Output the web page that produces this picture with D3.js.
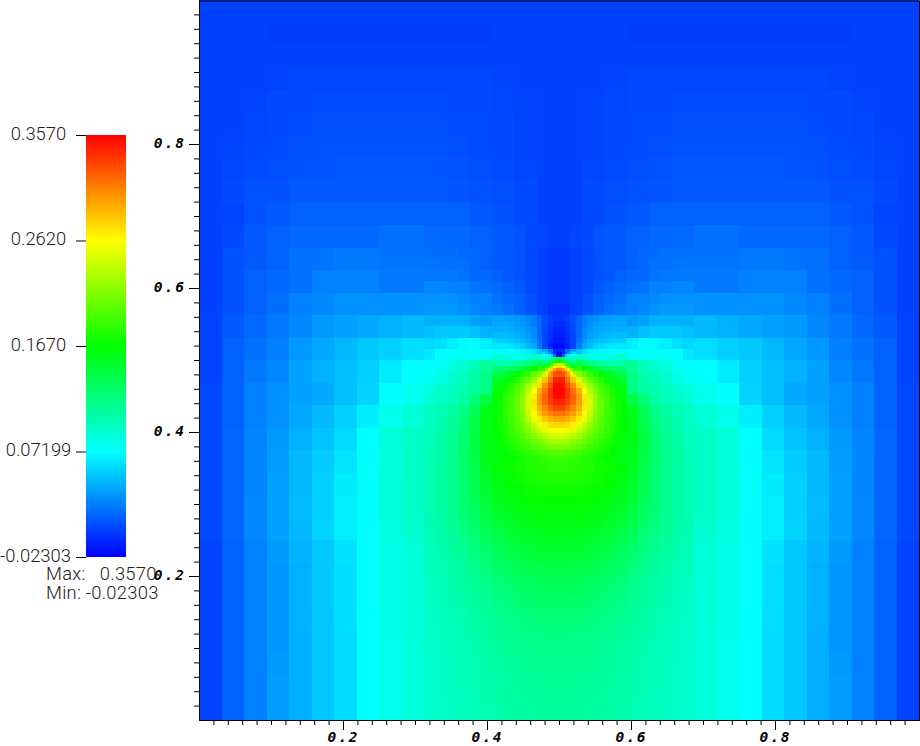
<!doctype html>
<html>
<head>
<meta charset="UTF-8">
<title>field</title>
<script src="https://d3js.org/d3.v7.min.js"></script>
<style>
  html,body{margin:0;padding:0;background:#fff;}
  svg{display:block;}
  .bar text,.info{font-family:Roboto,"Liberation Sans",sans-serif;font-weight:300;font-size:18.4px;fill:#222;}
  .info{letter-spacing:.25px;}
  .num text{font-family:"DejaVu Sans Mono",monospace;font-weight:bold;font-style:italic;font-size:14.5px;letter-spacing:2px;fill:#000;}
</style>
</head>
<body>
<svg id="svg1" width="920" height="746"></svg>
<script>
var colorStops = [-0.02303, 0.07199, 0.1670, 0.2620, 0.3570];
var stopLabels = ["-0.02303", "0.07199", "0.1670", "0.2620", "0.3570"];
var stopColors = ["#0000ff", "#00ffff", "#00ff00", "#ffff00", "#ff0000"];
var xLabels = [0.2, 0.4, 0.6, 0.8];
var yLabels = [0.2, 0.4, 0.6, 0.8];
var infoLines = ["Max:   0.3570", "Min: -0.02303"];

// left half of the mesh, the right half is the mirror of it
// coarse cells, 1/32 wide, rows from the top. rows below 10 stop where the mid cells start
var coarse = [
[.001,.001,.001,.001,.001,.001,.001,.001,.001,.001,.001,.001,.001,.001,.001,.001],
[.001,.001,.001,.000,.000,.000,.000,.000,.000,.000,.000,.000,.000,.001,.001,.001],
[.001,.001,.001,.001,.001,.001,.001,.001,.001,.001,.001,.001,.001,.001,.001,.001],
[.001,.001,.001,.002,.003,.003,.003,.003,.003,.003,.003,.003,.003,.002,.001,.001],
[.001,.001,.002,.004,.004,.005,.005,.005,.005,.005,.005,.004,.004,.003,.002,.001],
[.001,.001,.003,.004,.005,.006,.006,.006,.006,.006,.006,.005,.005,.004,.002,.001],
[.001,.002,.004,.005,.006,.007,.007,.007,.007,.007,.007,.006,.005,.004,.002,.001],
[.001,.003,.005,.006,.007,.008,.009,.009,.009,.009,.009,.008,.006,.005,.003,.001],
[.001,.004,.007,.007,.010,.010,.010,.010,.010,.010,.010,.009,.007,.006,.004,.001],
[.001,.002,.007,.010,.013,.013,.013,.013,.013,.013,.013,.013,.010,.007,.004,.001],
[.001,.004,.010,.013,.016,.016,.016,.016,.019,.019],
[.001,.007,.010,.013,.019,.020,.022,.022,.020,.020],
[.001,.007,.013,.016,.019,.025,.025,.025,.022,.022],
[.001,.007,.013,.019,.025,.028,.031,.031,.031,.031],
[.002,.010,.016,.022,.028,.034,.037,.040,.043,.046],
[.002,.013,.019,.025,.034,.040,.046,.052,.055,.060],
[.002,.013,.022,.028,.037,.043,.049,.055,.065,.072],
[.004,.014,.025,.031,.037,.040,.049,.056,.072,.079],
[.004,.014,.025,.031,.040,.046,.055,.066,.079,.088],
[.004,.015,.026,.034,.043,.050,.059,.072,.086,.093],
[.004,.015,.027,.035,.046,.053,.062,.073,.085,.093],
[.004,.015,.027,.037,.046,.055,.065,.074,.086,.094],
[.004,.015,.028,.037,.047,.055,.066,.073,.087,.094],
[.004,.015,.028,.037,.046,.056,.066,.073,.083,.090],
[.002,.014,.025,.034,.044,.051,.061,.073,.081,.087],
[.002,.014,.025,.033,.043,.052,.060,.073,.081,.087],
[.002,.014,.025,.033,.043,.052,.060,.073,.081,.087],
[.002,.014,.025,.033,.043,.051,.060,.072,.081,.087],
[.002,.014,.025,.033,.042,.051,.059,.072,.080,.086],
[.002,.014,.025,.034,.042,.051,.059,.072,.080,.086],
[.002,.014,.025,.035,.042,.051,.059,.072,.080,.086],
[.002,.014,.025,.035,.042,.051,.059,.072,.080,.086]
];

// mid cells, 1/64 wide, starting at x=20/64 and y=44/64 going down
var mid = [
[.016,.016,.016,.016,.013,.013,.010,.010,.007,.004,.003,.001],
[.017,.017,.016,.016,.014,.013,.011,.010,.008,.005,.003,.001],
[.019,.019,.019,.017,.016,.013,.011,.010,.007,.004,.001,-.002],
[.020,.020,.019,.019,.016,.013,.010,.010,.007,.004,.001,-.002],
[.022,.022,.022,.020,.016,.016,.013,.010,.007,.004,.001,-.002],
[.028,.028,.025,.025,.020,.019,.016,.013,.010,.004,.001,-.002],
[.031,.031,.031,.028,.025,.025,.019,.016,.013,.007,.001,-.002],
[.034,.034,.034,.031,.028,.025,.022,.019,.013,.007,.001,-.005],
[.043,.043,.043,.043,.037,.034,.028,.025,.019,.010,.001,-.005],
[.049,.052,.052,.052,.049,.043,.037,.031,.022,.013,.001,-.008],
[.058,.060,.066,.070,.072,.066,.060,.052,.040,.025,.001,-.011],
[.064,.072,.074,.076,.074,.073,.072,.072,.066,.060,.040,-.020],
[.072,.076,.084,.090,.098,.110,.120,.140,.165,.190,.220,.250],
[.076,.082,.090,.096,.104,.118,.135,.155,.175,.210,.250,.290],
[.084,.090,.095,.100,.107,.118,.140,.160,.190,.250,.300,.340],
[.089,.094,.099,.108,.122,.142,.160,.180,.220,.280,.330,.350],
[.094,.100,.106,.117,.135,.157,.170,.190,.230,.290,.340,.350],
[.095,.102,.110,.121,.140,.160,.175,.195,.230,.280,.320,.340],
[.097,.104,.112,.124,.142,.160,.175,.195,.225,.260,.290,.300],
[.098,.105,.113,.126,.142,.158,.172,.190,.210,.230,.250,.260],
[.099,.106,.114,.127,.142,.157,.170,.185,.200,.210,.220,.225],
[.100,.106,.115,.127,.141,.155,.164,.170,.174,.178,.181,.183],
[.100,.106,.115,.126,.140,.153,.161,.167,.172,.175,.177,.178],
[.100,.106,.114,.125,.138,.150,.158,.164,.168,.171,.173,.173],
[.100,.106,.114,.124,.135,.147,.155,.160,.164,.166,.168,.168],
[.100,.106,.113,.122,.132,.143,.151,.156,.160,.162,.164,.164],
[.100,.105,.112,.120,.129,.139,.146,.151,.155,.158,.160,.160],
[.099,.104,.110,.117,.125,.134,.141,.147,.151,.154,.156,.157],
[.098,.103,.108,.114,.121,.129,.136,.142,.146,.149,.151,.152],
[.097,.102,.106,.111,.118,.125,.131,.137,.141,.144,.146,.147],
[.096,.100,.104,.109,.115,.121,.127,.132,.136,.139,.141,.142],
[.095,.099,.103,.107,.112,.118,.123,.128,.131,.134,.136,.137],
[.094,.098,.102,.105,.110,.115,.120,.124,.127,.130,.132,.133],
[.093,.097,.100,.104,.108,.112,.117,.120,.124,.126,.128,.129],
[.093,.096,.099,.102,.106,.110,.114,.117,.120,.122,.124,.125],
[.092,.095,.098,.101,.105,.108,.112,.115,.117,.119,.121,.122],
[.092,.095,.097,.100,.103,.107,.110,.113,.115,.117,.118,.119],
[.091,.094,.097,.099,.102,.105,.108,.111,.113,.115,.116,.117],
[.091,.094,.096,.099,.101,.104,.107,.109,.111,.113,.114,.115],
[.091,.093,.096,.098,.101,.103,.106,.108,.110,.111,.113,.113],
[.090,.093,.095,.098,.100,.103,.105,.107,.109,.110,.111,.112],
[.090,.093,.095,.097,.100,.102,.104,.106,.108,.109,.110,.111],
[.090,.092,.095,.097,.099,.102,.104,.106,.107,.108,.109,.110],
[.090,.092,.094,.097,.099,.101,.103,.105,.106,.107,.108,.109]
];

// fine cells, 1/128 wide, starting at x=52/128 and y=72/128 going down
var fine = [
[.037,.037,.036,.035,.034,.031,.028,.023,.014,.006,.000,-.004],
[.040,.040,.039,.038,.036,.034,.030,.024,.015,.005,-.002,-.006],
[.043,.043,.042,.041,.039,.037,.033,.027,.015,.004,-.004,-.009],
[.047,.047,.046,.044,.042,.040,.036,.028,.015,.003,-.005,-.012],
[.054,.054,.053,.051,.049,.046,.041,.032,.018,.003,-.008,-.015],
[.064,.064,.063,.061,.058,.054,.047,.040,.022,.003,-.010,-.018],
[.075,.074,.073,.072,.071,.069,.066,.060,.050,.040,.020,-.008],
[.090,.086,.082,.080,.080,.082,.085,.090,.095,.100,.100,.090],
[.104,.100,.100,.104,.108,.112,.118,.125,.135,.145,.155,.165],
[.123,.124,.127,.132,.138,.145,.155,.165,.185,.215,.245,.265],
[.138,.142,.148,.156,.165,.175,.187,.200,.218,.245,.300,.325],
[.148,.153,.160,.170,.180,.192,.206,.225,.250,.285,.315,.345],
[.155,.162,.170,.180,.192,.205,.222,.245,.275,.305,.330,.354],
[.160,.168,.176,.186,.198,.214,.235,.262,.293,.315,.338,.356],
[.163,.171,.180,.190,.202,.219,.245,.268,.300,.320,.338,.352],
[.165,.172,.181,.191,.204,.220,.247,.272,.298,.318,.333,.344],
[.165,.173,.182,.192,.204,.219,.245,.268,.293,.308,.322,.332],
[.165,.173,.182,.191,.202,.216,.240,.262,.283,.298,.308,.314],
[.165,.173,.181,.190,.200,.212,.232,.255,.270,.283,.292,.297],
[.165,.172,.180,.188,.197,.208,.222,.240,.257,.268,.274,.277],
[.165,.171,.178,.186,.194,.203,.214,.227,.242,.252,.258,.261],
[.164,.169,.176,.183,.190,.198,.206,.215,.225,.235,.242,.245],
[.163,.168,.173,.179,.185,.192,.198,.205,.213,.220,.226,.228],
[.161,.165,.170,.175,.180,.185,.190,.196,.202,.207,.211,.213],
[.159,.163,.167,.171,.174,.178,.182,.186,.190,.193,.196,.198],
[.157,.161,.164,.167,.170,.173,.176,.179,.182,.185,.187,.188]
];

// smallest cells round the point, 1/256 wide, starting at x=122/256 and y=131/256
var tiny = [
[.060,.045,.030,.012,-.008,-.018],
[.072,.072,.066,.055,.013,-.023],
[.090,.096,.098,.107,.125,.143],
[.107,.113,.125,.137,.155,.170],
[.137,.149,.175,.190,.227,.240],
[.160,.178,.195,.240,.262,.274],
[.182,.210,.250,.280,.297,.309],
[.227,.258,.290,.310,.325,.333]
];

var svg = d3.select("#svg1");
var x = d3.scaleLinear().domain([0, 1]).range([199, 919]);
var y = d3.scaleLinear().domain([0, 1]).range([720, 0]);
var color = d3.scaleLinear().domain(colorStops).range(stopColors).clamp(true);

function flat(rows, size, col0, rowTop){
    var cells = [];
    rows.forEach(function(row, r){
        row.forEach(function(v, c){
            var a = (col0 + c) * size, top = rowTop - r * size;
            cells.push({x0: a, x1: a + size, y0: top, y1: top - size, v: v});
            cells.push({x0: 1 - a - size, x1: 1 - a, y0: top, y1: top - size, v: v});
        });
    });
    return cells;
}

function drawCells(cells, name){
    svg.append("g").attr("class", name)
        .attr("shape-rendering", "crispEdges")
        .selectAll("rect").data(cells).enter().append("rect")
        .attr("x", function(d){ return x(d.x0); })
        .attr("y", function(d){ return y(d.y0); })
        .attr("width", function(d){ return x(d.x1) - x(d.x0); })
        .attr("height", function(d){ return y(d.y1) - y(d.y0); })
        .attr("fill", function(d){ return color(d.v); });
}

drawCells(flat(coarse, 1/32, 0, 1), "coarse");
drawCells(flat(mid, 1/64, 20, 44/64), "mid");
drawCells(flat(fine, 1/128, 52, 72/128), "fine");
drawCells(flat(tiny, 1/256, 122, 131/256), "tiny");

// plot axes
var minor = d3.range(1, 50).map(function(i){ return i * 0.02; });

svg.append("g").attr("transform", "translate(0,720)")
    .call(d3.axisBottom(x).tickValues(minor).tickSize(5).tickSizeOuter(0).tickFormat(""));
svg.append("g").attr("class", "num").attr("transform", "translate(0,720)")
    .call(d3.axisBottom(x).tickValues(xLabels).tickSize(10).tickSizeOuter(0).tickPadding(2).tickFormat(d3.format(".1f")))
    .call(function(g){ g.selectAll("text").attr("font-size", null).attr("font-family", null); });
svg.append("g").attr("transform", "translate(199,0)")
    .call(d3.axisLeft(y).tickValues(minor).tickSize(5).tickSizeOuter(0).tickFormat(""));
svg.append("g").attr("class", "num").attr("transform", "translate(199,0)")
    .call(d3.axisLeft(y).tickValues(yLabels).tickSize(10).tickSizeOuter(0).tickPadding(3).tickFormat(d3.format(".1f")))
    .call(function(g){ g.selectAll("text").attr("font-size", null).attr("font-family", null).attr("dy", "0.22em"); });
svg.append("g").attr("transform", "translate(0,0.5)")
    .call(d3.axisTop(x).tickValues([]).tickSizeOuter(0));
svg.append("g").attr("transform", "translate(919,0)")
    .call(d3.axisRight(y).tickValues([]).tickSizeOuter(0));

// colour bar
var barY = d3.scaleLinear().domain([colorStops[0], colorStops[4]]).range([557, 135]);
var grad = svg.append("defs").append("linearGradient").attr("id", "barFill")
    .attr("x1", 0).attr("x2", 0).attr("y1", 1).attr("y2", 0);
colorStops.forEach(function(v, i){
    grad.append("stop")
        .attr("offset", (v - colorStops[0]) / (colorStops[4] - colorStops[0]))
        .attr("stop-color", stopColors[i]);
});
svg.append("rect")
    .attr("x", 86).attr("width", 40)
    .attr("y", barY(colorStops[4]))
    .attr("height", barY(colorStops[0]) - barY(colorStops[4]))
    .attr("fill", "url(#barFill)");

var barAxis = svg.append("g").attr("class", "bar").attr("transform", "translate(86,0)")
    .call(d3.axisLeft(barY).tickValues(colorStops).tickSize(10).tickSizeOuter(0)
        .tickFormat(function(d, i){ return stopLabels[i]; }));
barAxis.select(".domain").remove();
barAxis.selectAll("text")
    .attr("font-size", null).attr("font-family", null)
    .attr("text-anchor", "middle")
    .attr("x", function(d, i){ return i == 0 ? -50.5 : -47.5; })
    .attr("dy", "0.24em");

svg.selectAll("text.info").data(infoLines).enter().append("text")
    .attr("class", "info")
    .attr("x", 46)
    .attr("y", function(d, i){ return 580 + i * 19; })
    .style("white-space", "pre")
    .text(function(d){ return d; });
</script>
</body>
</html>
